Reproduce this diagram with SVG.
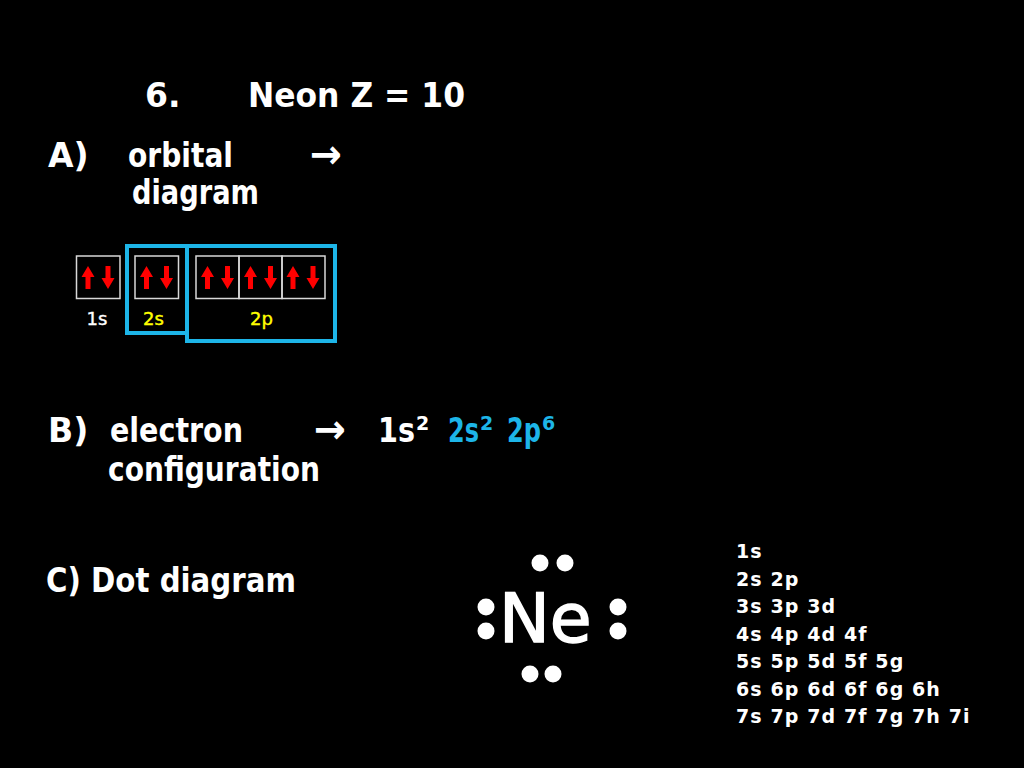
<svg xmlns="http://www.w3.org/2000/svg" xmlns:xlink="http://www.w3.org/1999/xlink" width="1024" height="768" viewBox="0 0 1024 768">
<style>
.t{font-family:"DejaVu Sans","Liberation Sans",sans-serif;font-weight:bold;fill:#ffffff;font-size:33px}
.ar{font-family:"DejaVu Sans","Liberation Sans",sans-serif;font-weight:bold;fill:#ffffff;font-size:40px}
.lbl{font-family:"DejaVu Sans","Liberation Sans",sans-serif;font-size:18px}
.lst{font-family:"DejaVu Sans","Liberation Sans",sans-serif;font-weight:bold;fill:#ffffff;font-size:19px;letter-spacing:1.1px}
.cy{fill:#1db5e8}
.sup{font-size:19px}
.box{fill:none;stroke:#d8d8d8;stroke-width:1.5}
.hl{fill:none;stroke:#1db5e8;stroke-width:4}
.dot{fill:#ffffff}
</style>
<defs>
<path id="up" d="M0,0 L6.5,11 L2.5,11 L2.5,23 L-2.5,23 L-2.5,11 L-6.5,11 Z" fill="#ff0000"/>
<path id="dn" d="M0,23 L6.5,12 L2.5,12 L2.5,0 L-2.5,0 L-2.5,12 L-6.5,12 Z" fill="#ff0000"/>
</defs>
<rect width="1024" height="768" fill="#000000"/>

<g id="title">
<text class="t" x="145" y="107">6.</text>
<text class="t" x="248" y="107" textLength="217" lengthAdjust="spacingAndGlyphs">Neon Z = 10</text>
</g>

<g id="partA">
<text class="t" x="48" y="167">A)</text>
<text class="t" x="128" y="167" textLength="105" lengthAdjust="spacingAndGlyphs">orbital</text>
<text class="ar" x="310" y="168" textLength="32" lengthAdjust="spacingAndGlyphs">→</text>
<text class="t" x="132" y="204" textLength="127" lengthAdjust="spacingAndGlyphs">diagram</text>
</g>

<g id="orbitals">
<rect class="box" x="76.5" y="256" width="43.5" height="42.5"/>
<rect class="box" x="135" y="256" width="43.5" height="42.5"/>
<rect class="box" x="196" y="256" width="43" height="42.5"/>
<rect class="box" x="239" y="256" width="43" height="42.5"/>
<rect class="box" x="282" y="256" width="43" height="42.5"/>
<use xlink:href="#up" x="88" y="266"/><use xlink:href="#dn" x="108" y="266"/>
<use xlink:href="#up" x="146.5" y="266"/><use xlink:href="#dn" x="166.5" y="266"/>
<use xlink:href="#up" x="207.5" y="266"/><use xlink:href="#dn" x="227.5" y="266"/>
<use xlink:href="#up" x="250.5" y="266"/><use xlink:href="#dn" x="270.5" y="266"/>
<use xlink:href="#up" x="293" y="266"/><use xlink:href="#dn" x="313" y="266"/>
<rect class="hl" x="127" y="246" width="60" height="87"/>
<rect class="hl" x="187" y="246" width="148" height="95"/>
<text class="lbl" x="86.5" y="325" fill="#ffffff" stroke="#ffffff" stroke-width="0.4">1s</text>
<text class="lbl" x="143" y="325" fill="#ffff00" stroke="#ffff00" stroke-width="0.4">2s</text>
<text class="lbl" x="250" y="325" fill="#ffff00" stroke="#ffff00" stroke-width="0.4">2p</text>
</g>

<g id="partB">
<text class="t" x="48" y="442">B)</text>
<text class="t" x="110" y="442" textLength="133" lengthAdjust="spacingAndGlyphs">electron</text>
<text class="ar" x="314" y="443" textLength="32" lengthAdjust="spacingAndGlyphs">→</text>
<text class="t"><tspan x="378" y="442" textLength="37" lengthAdjust="spacingAndGlyphs">1s</tspan><tspan class="sup" x="416" y="430">2</tspan><tspan class="cy" x="448" y="442" textLength="31" lengthAdjust="spacingAndGlyphs">2s</tspan><tspan class="sup cy" x="480" y="430">2</tspan><tspan class="cy" x="507" y="442" textLength="34" lengthAdjust="spacingAndGlyphs">2p</tspan><tspan class="sup cy" x="542" y="430">6</tspan></text>
<text class="t" x="108" y="481" textLength="212" lengthAdjust="spacingAndGlyphs">configuration</text>
</g>

<g id="partC">
<text class="t" x="46" y="592" textLength="250" lengthAdjust="spacingAndGlyphs">C) Dot diagram</text>
</g>

<g id="lewis">
<text x="499" y="642" font-family="DejaVu Sans, sans-serif" font-size="68" fill="#ffffff" stroke="#ffffff" stroke-width="1.5">Ne</text>
<circle class="dot" cx="540" cy="563" r="8.5"/>
<circle class="dot" cx="565" cy="563" r="8.5"/>
<circle class="dot" cx="486" cy="607" r="8.5"/>
<circle class="dot" cx="486" cy="631" r="8.5"/>
<circle class="dot" cx="618" cy="607" r="8.5"/>
<circle class="dot" cx="618" cy="631" r="8.5"/>
<circle class="dot" cx="530" cy="674" r="8.5"/>
<circle class="dot" cx="553" cy="674" r="8.5"/>
</g>

<g id="list">
<text class="lst" x="736" y="558">1s</text>
<text class="lst" x="736" y="585.5">2s 2p</text>
<text class="lst" x="736" y="613">3s 3p 3d</text>
<text class="lst" x="736" y="640.5">4s 4p 4d 4f</text>
<text class="lst" x="736" y="668">5s 5p 5d 5f 5g</text>
<text class="lst" x="736" y="695.5">6s 6p 6d 6f 6g 6h</text>
<text class="lst" x="736" y="723">7s 7p 7d 7f 7g 7h 7i</text>
</g>
</svg>
